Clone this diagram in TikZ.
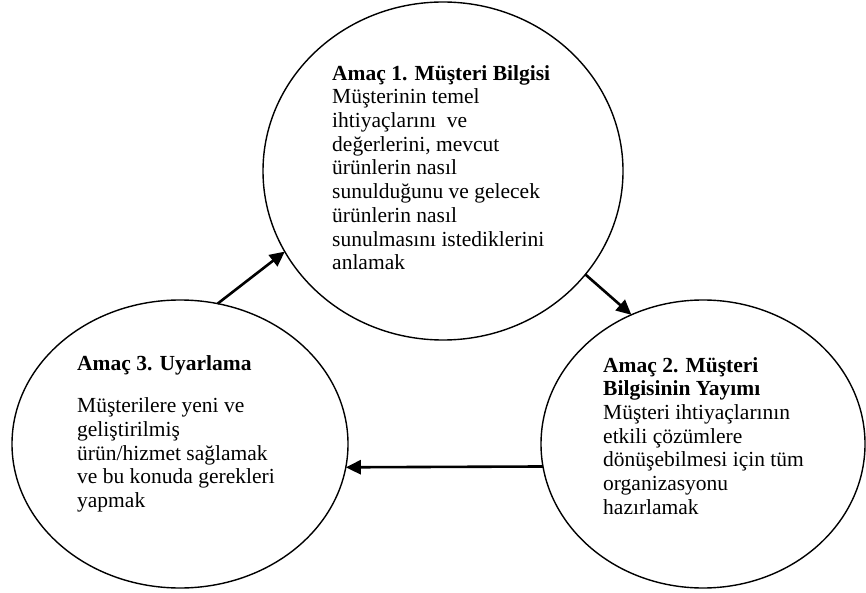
\documentclass[tikz,border=0pt]{standalone}
\usepackage{fontspec}
\setmainfont{Liberation Serif}
\usetikzlibrary{shapes.geometric,arrows.meta}
\begin{document}
\begin{tikzpicture}[x=1pt,y=-1pt,
  goal/.style={draw,ellipse,line width=1.4pt,inner sep=0pt,outer sep=0pt},
  goaltext/.style={anchor=north west,inner sep=0pt,align=left,
    font=\fontsize{21.5}{23.7}\selectfont},
  flow/.style={line width=2.6pt,-{Triangle[length=15pt,width=14pt]}}]
\useasboundingbox (0,0) rectangle (866,593);

% the three goals
\node[goal,minimum width=360pt,minimum height=338pt] (T) at (443,171) {};
\node[goal,minimum width=336pt,minimum height=288pt] (L) at (180,444) {};
\node[goal,minimum width=324pt,minimum height=288pt] (R) at (703,444) {};

% goal texts
\node[goaltext] (Ttext) at (332,65) {\textbf{Amaç 1. Müşteri Bilgisi}\\
  Müşterinin temel\\
  ihtiyaçlarını\ \ ve\\
  değerlerini, mevcut\\
  ürünlerin nasıl\\
  sunulduğunu ve gelecek\\
  ürünlerin nasıl\\
  sunulmasını istediklerini\\
  anlamak};
\node[goaltext] (Rtext) at (603,357) {\textbf{Amaç 2. Müşteri}\\
  \textbf{Bilgisinin Yayımı}\\
  Müşteri ihtiyaçlarının\\
  etkili çözümlere\\
  dönüşebilmesi için tüm\\
  organizasyonu\\
  hazırlamak};
\node[goaltext] (Ltext) at (77,355) {\textbf{Amaç 3. Uyarlama}\\[19pt]
  Müşterilere yeni ve\\
  geliştirilmiş\\
  ürün/hizmet sağlamak\\
  ve bu konuda gerekleri\\
  yapmak};

% cycle of goals
\draw[flow] (L.75) -- (T.207);
\draw[flow] (T.324) -- (R.119);
\draw[flow] (R.188) -- (L.352);
\end{tikzpicture}
\end{document}
